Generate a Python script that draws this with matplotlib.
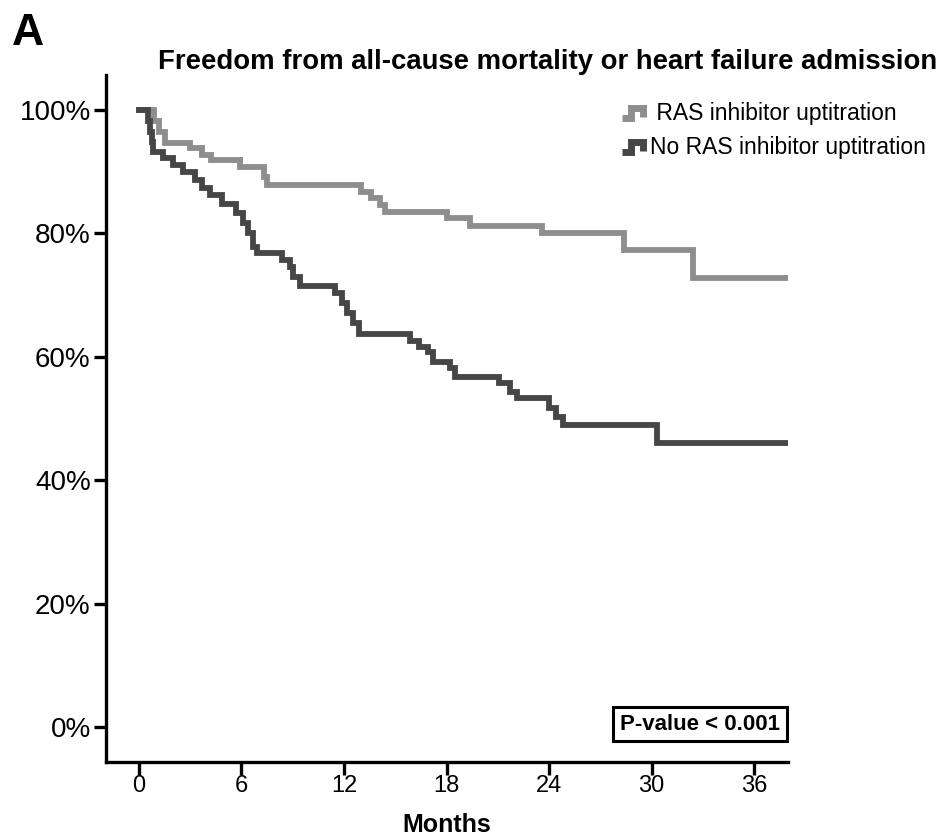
import matplotlib
matplotlib.use("Agg")
import matplotlib.pyplot as plt
from matplotlib.lines import Line2D
from matplotlib.legend_handler import HandlerBase

plt.rcParams['font.family'] = ['Liberation Sans', 'DejaVu Sans']
NARROW = ['Liberation Sans Narrow', 'Liberation Sans', 'DejaVu Sans']

# Kaplan-Meier steps (months, % event-free)
t_upt = [0, 0.9, 1.2, 1.5, 3.0, 3.7, 4.2, 5.9, 7.3, 7.5, 13.0, 13.6, 14.1, 14.4,
         18.0, 19.4, 23.6, 28.4, 32.4, 38.1]
s_upt = [100, 98.2, 96.5, 94.7, 93.8, 92.7, 91.9, 90.8, 89.1, 87.8, 86.7, 85.7, 84.6, 83.5,
         82.5, 81.2, 80.0, 77.3, 72.8, 72.8]

t_no = [0, 0.55, 0.65, 0.75, 0.85, 1.4, 2.0, 2.6, 3.3, 3.7, 4.15, 4.85, 5.7, 6.1, 6.4,
        6.7, 6.9, 8.36, 8.83, 9.0, 9.4, 11.5, 11.9, 12.2, 12.5, 12.9, 15.85, 16.4,
        16.9, 17.2, 18.2, 18.5, 21.1, 21.7, 22.1, 24.0, 24.4, 24.8, 30.3, 38.1]
s_no = [100, 98.2, 96.5, 94.8, 93.2, 92.2, 91.1, 90.0, 88.7, 87.4, 86.2, 84.8, 83.3, 81.7, 80.1,
        77.8, 76.8, 75.7, 74.6, 72.9, 71.5, 70.3, 68.7, 67.1, 65.5, 63.7, 62.6, 61.6,
        60.8, 59.2, 58.2, 56.7, 55.8, 54.3, 53.3, 51.7, 50.2, 48.9, 46.0, 46.0]

x_ticks = [0, 6, 12, 18, 24, 30, 36]
y_ticks = [0, 20, 40, 60, 80, 100]
labels = [' RAS inhibitor uptitration', 'No RAS inhibitor uptitration']
c_upt = '#8e8e8e'
c_no = '#464646'


class HandlerStep(HandlerBase):
    def create_artists(self, legend, orig, xd, yd, w, h, fontsize, trans):
        xs = [xd, xd + w * 0.45, xd + w * 0.45, xd + w, xd + w, xd + w]
        ys = [yd + h * 0.15, yd + h * 0.15, yd + h * 0.75, yd + h * 0.75,
              yd + h * 0.75, yd + h * 0.2]
        ln = Line2D(xs, ys, color=orig.get_color(), lw=5,
                    solid_joinstyle='miter', solid_capstyle='butt', transform=trans)
        return [ln]


fig = plt.figure(figsize=(9.47, 8.36), dpi=100)
ax = fig.add_axes([0.1119, 0.0885, 0.7205, 0.8218])

l1, = ax.step(t_upt, s_upt, where='post', color=c_upt, lw=4.2, solid_joinstyle='miter')
l2, = ax.step(t_no, s_no, where='post', color=c_no, lw=4.2, solid_joinstyle='miter')

ax.set_xlim(-1.93, 38.0)
ax.set_ylim(-5.67, 105.67)
ax.set_xticks(x_ticks)
ax.set_yticks(y_ticks)
ax.set_yticklabels([f'{v}%' for v in y_ticks], fontsize=20)
ax.set_xticklabels([str(v) for v in x_ticks], fontsize=17, family=NARROW)
for s in ['top', 'right']:
    ax.spines[s].set_visible(False)
for s in ['left', 'bottom']:
    ax.spines[s].set_linewidth(2.4)
ax.tick_params(axis='both', length=9, width=2.4, pad=2)
ax.tick_params(axis='x', pad=0)
ax.set_xlabel('Months', fontsize=18, fontweight='bold', family=NARROW, labelpad=12)

fig.text(0.013, 0.985, 'A', fontsize=32, fontweight='bold', ha='left', va='top')
fig.text(0.578, 0.926, 'Freedom from all-cause mortality or heart failure admission',
         fontsize=19.8, fontweight='bold', ha='center', va='center')

fig.legend([l1, l2], labels, loc='upper left', bbox_to_anchor=(622 / 947, 1 - 102 / 836),
           bbox_transform=fig.transFigure, frameon=False, fontsize=16.5,
           handler_map={Line2D: HandlerStep()}, handlelength=0.9, handletextpad=0.3,
           labelspacing=0.5, borderpad=0, borderaxespad=0)

fig.text(700 / 947, 1 - 724 / 836, 'P-value < 0.001', fontsize=16, fontweight='bold',
         family=NARROW, ha='center', va='center',
         bbox=dict(boxstyle='square,pad=0.3', fc='white', ec='black', lw=2.2))

fig.savefig('out.png', dpi=100)
